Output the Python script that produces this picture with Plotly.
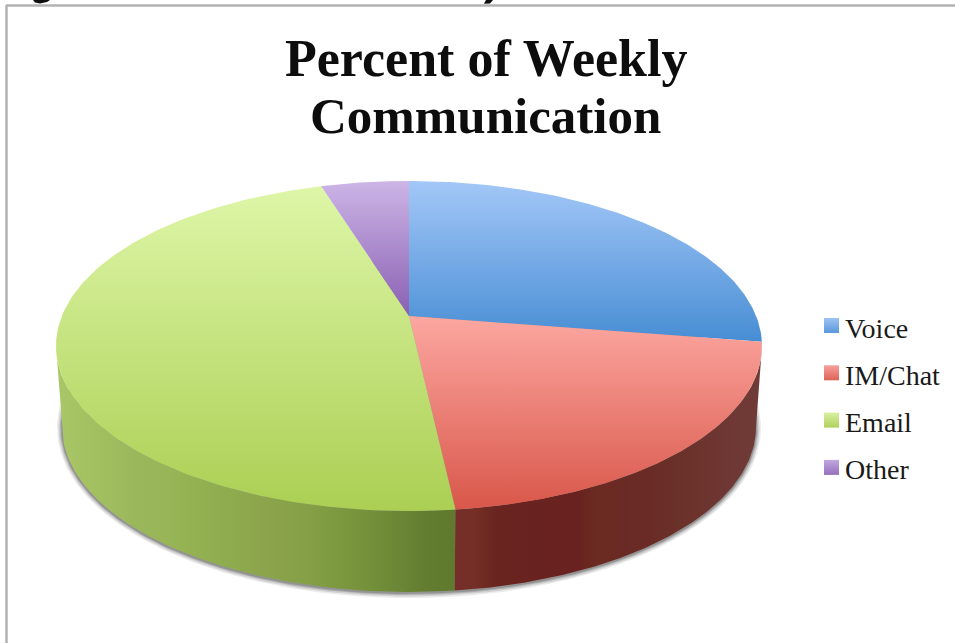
import numpy as np
import plotly.graph_objects as go

# Share of weekly communication, percent
categories = ["Voice", "IM/Chat", "Email", "Other"]
values = [24.6, 23.3, 48.1, 4.0]
title_lines = ["Percent of Weekly", "Communication"]

# Slice face colours, light to dark
face_light = ["#a3c7f7", "#fca7a1", "#def6a8", "#ccb5e6"]
face_dark = ["#478dd4", "#d9574a", "#abcf53", "#8a60b3"]
legend_light = ["#9cc4f2", "#f7a09a", "#d8f0a0", "#c0a8e0"]
legend_dark = ["#5a98dc", "#dd6258", "#b0d05c", "#9670bc"]

# Side wall shading, read left to right along each visible wall
wall_stops = {
    "Email": [
        (0.00, "#a8c766"), (0.10, "#a3c060"), (0.20, "#9bb75c"), (0.30, "#97b455"),
        (0.42, "#8fad4e"), (0.52, "#8ca54c"), (0.62, "#86a047"), (0.72, "#7b983f"),
        (0.85, "#6c8836"), (0.93, "#637c30"), (1.00, "#5f7a2d"),
    ],
    "IM/Chat": [
        (0.00, "#762d2b"), (0.06, "#752f26"), (0.14, "#6a2420"), (0.40, "#69221f"),
        (0.46, "#6b2b21"), (0.62, "#6a2a27"), (0.72, "#6a3128"), (0.86, "#6e3632"),
        (1.00, "#703c38"),
    ],
}

# Pie geometry in pixels of the page
CX = 409
TOP_CY, TOP_RX, TOP_RY = 346, 353, 165
BASE_CY, BASE_RX, BASE_RY = 427, 347, 165
APEX_Y = 316

# Legend placement in pixels of the page
KEY_X, LABEL_X = 831.5, 843
KEY_Y0, LABEL_Y0, LEGEND_STEP = 325.5, 328, 47.3


def rim(theta, cy, rx, ry):
    """Point on an ellipse; theta is clockwise from twelve o'clock, in degrees."""
    t = np.radians(theta)
    return CX + rx * np.sin(t), cy - ry * np.cos(t)


edges = np.concatenate([[0], np.cumsum(values)]) * 360 / sum(values)

fig = go.Figure()

# Soft shadow under the base, built from a few widening translucent ellipses
for grow, alpha in [(5, 0.12), (3.5, 0.18), (2, 0.26), (1, 0.34)]:
    th = np.linspace(0, 360, 361)
    sx, sy = rim(th, BASE_CY + 1, BASE_RX + grow, BASE_RY + grow)
    fig.add_trace(go.Scatter(
        x=sx, y=sy, mode="lines", line=dict(width=0), fill="toself",
        fillcolor=f"rgba(90,90,90,{alpha})", showlegend=False, hoverinfo="skip",
    ))

# Side walls for the front half of the disc
for name, start, end in [("Email", edges[2], 270.0), ("IM/Chat", 90.0, edges[2])]:
    th = np.linspace(start, end, 120)
    tx, ty = rim(th, TOP_CY, TOP_RX, TOP_RY)
    bx, by = rim(th[::-1], BASE_CY, BASE_RX, BASE_RY)
    fig.add_trace(go.Scatter(
        x=np.concatenate([tx, bx]), y=np.concatenate([ty, by]),
        mode="lines", line=dict(width=0), fill="toself",
        fillgradient=dict(type="horizontal", colorscale=wall_stops[name]),
        showlegend=False, hoverinfo="skip",
    ))

# Top faces; the vertical gradient runs from the bottom of each slice upward
for i, name in enumerate(categories):
    th = np.linspace(edges[i], edges[i + 1], 160)
    ax, ay = rim(th, TOP_CY, TOP_RX, TOP_RY)
    fig.add_trace(go.Scatter(
        x=np.concatenate([[CX], ax, [CX]]), y=np.concatenate([[APEX_Y], ay, [APEX_Y]]),
        mode="lines", line=dict(width=0), fill="toself",
        fillgradient=dict(type="vertical",
                          colorscale=[(0, face_dark[i]), (1, face_light[i])]),
        showlegend=False, name=name,
        hovertemplate=f"{name}: {values[i]}%<extra></extra>",
    ))

# Legend keys
for i, name in enumerate(categories):
    fig.add_trace(go.Scatter(
        x=[KEY_X], y=[KEY_Y0 + i * LEGEND_STEP], mode="markers", name=name,
        showlegend=False, hoverinfo="skip",
        marker=dict(symbol="square", size=15, color=legend_light[i], line=dict(width=0),
                    gradient=dict(type="vertical", color=legend_dark[i])),
    ))

annotations = [
    dict(x=486, y=58, text=f"<b>{title_lines[0]}</b>",
         font=dict(family="Liberation Serif", size=52, color="#0d0d0d")),
    dict(x=485, y=116, text=f"<b>{title_lines[1]}</b>",
         font=dict(family="Liberation Serif", size=51, color="#0d0d0d")),
]
annotations += [
    dict(x=LABEL_X, y=LABEL_Y0 + i * LEGEND_STEP, text=name, xanchor="left",
         font=dict(family="Liberation Serif", size=28, color="#1a1a1a"))
    for i, name in enumerate(categories)
]
for a in annotations:
    a.update(xref="x", yref="y", showarrow=False, yanchor="middle")

# Frame of the chart area, plus the tails of the heading cut off above it
frame = dict(color="#b2b2b2", width=2.5)
shapes = [
    dict(type="line", xref="x", yref="y", x0=6.5, x1=6.5, y0=5, y1=643, line=frame),
    dict(type="line", xref="x", yref="y", x0=6, x1=955, y0=5.5, y1=5.5, line=frame),
    dict(type="path", xref="x", yref="y", line=dict(width=0), fillcolor="#0d0d0d",
         path="M33,0 L50,0 L47,2 L40,3.6 L35,2.5 Z"),
    dict(type="path", xref="x", yref="y", line=dict(width=0), fillcolor="#0d0d0d",
         path="M486,0 L493,0 L490,3.5 L484,3.8 Z"),
]

fig.update_layout(
    width=955, height=643,
    margin=dict(l=0, r=0, t=0, b=0),
    paper_bgcolor="white", plot_bgcolor="white",
    showlegend=False,
    annotations=annotations,
    shapes=shapes,
    xaxis=dict(range=[0, 955], visible=False, fixedrange=True),
    yaxis=dict(range=[643, 0], visible=False, fixedrange=True),
)

fig.write_html("out.html", config=dict(displayModeBar=False))
